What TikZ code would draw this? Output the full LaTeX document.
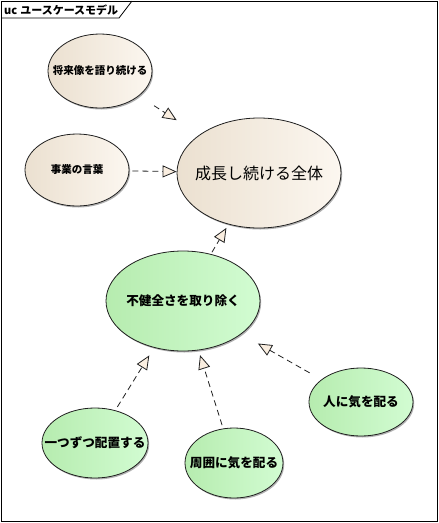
\documentclass[tikz,border=0pt]{standalone}
\usepackage{fontspec}
\newfontfamily\jp{Noto Sans CJK JP}
\usetikzlibrary{shapes.geometric,arrows.meta,shadows}
\definecolor{beigeL}{HTML}{EBE0D0}
\definecolor{beigeR}{HTML}{FCF7F0}
\definecolor{greenL}{HTML}{B6ECAF}
\definecolor{greenR}{HTML}{D2FCD2}
\definecolor{tipfill}{HTML}{FAEEE0}
\definecolor{edge}{HTML}{202020}
\begin{document}
\begin{tikzpicture}[x=1pt,y=-1pt,
  uc/.style={ellipse, draw=edge, line width=0.8pt, inner sep=0pt,
    drop shadow={shadow xshift=1.2pt, shadow yshift=-1.5pt, fill=black, opacity=0.3}},
  beige/.style={uc, left color=beigeL, right color=beigeR},
  green/.style={uc, left color=greenL, right color=greenR},
  smalltxt/.style={font=\jp\bfseries\fontsize{10.5pt}{12pt}\selectfont},
  greentxt/.style={font=\jp\bfseries\fontsize{12.6pt}{14pt}\selectfont},
  bigtxt/.style={font=\jp\fontsize{16pt}{18pt}\selectfont},
  conn/.style={draw=edge, line width=0.8pt, dash pattern=on 6pt off 4pt,
    -{Triangle[length=14pt,width=12pt,fill=tipfill,line width=0.8pt]}}
]
\useasboundingbox (0,0) rectangle (439,523);
% frame
\draw[line width=1pt] (1,1) rectangle (437.5,521.5);
\draw[line width=0.8pt] (1,18) -- (119,18) -- (132,1);
\node[anchor=west, font=\jp\bfseries\fontsize{11pt}{12pt}\selectfont, inner sep=0pt] (title) at (4,10) {uc\hspace{3pt}ユースケースモデル};
% use cases
\node[beige, smalltxt, minimum width=104pt, minimum height=74pt] (A) at (100,71) {\makebox[0pt]{将来像を語り続ける}};
\node[beige, smalltxt, minimum width=104pt, minimum height=72pt] (B) at (77,170) {\makebox[0pt]{事業の言葉}};
\node[beige, bigtxt, minimum width=164pt, minimum height=110pt] (C) at (259,173) {\makebox[0pt]{成長し続ける全体}};
\node[green, greentxt, minimum width=154pt, minimum height=100pt] (D) at (183,301) {\makebox[0pt]{不健全さを取り除く}};
\node[green, greentxt, minimum width=106pt, minimum height=70pt] (E) at (95,443) {\makebox[0pt]{一つずつ配置する}};
\node[green, greentxt, minimum width=98pt, minimum height=70pt] (F) at (234,463) {\makebox[0pt]{周囲に気を配る}};
\node[green, greentxt, minimum width=104pt, minimum height=68pt] (G) at (361,402) {\makebox[0pt]{人に気を配る}};
% connectors
\draw[conn, shorten <=18pt, shorten >=27pt] (A) -- (C);
\draw[conn, shorten <=3pt, shorten >=0pt] (B) -- (C);
\draw[conn, shorten <=2pt, shorten >=4pt] (D) -- (C);
\draw[conn, shorten <=4pt, shorten >=9pt] (E) -- (D);
\draw[conn, shorten <=3.5pt, shorten >=5pt] (F) -- (D);
\draw[conn, shorten <=13.5pt, shorten >=19pt] (G) -- (D);
\end{tikzpicture}
\end{document}
